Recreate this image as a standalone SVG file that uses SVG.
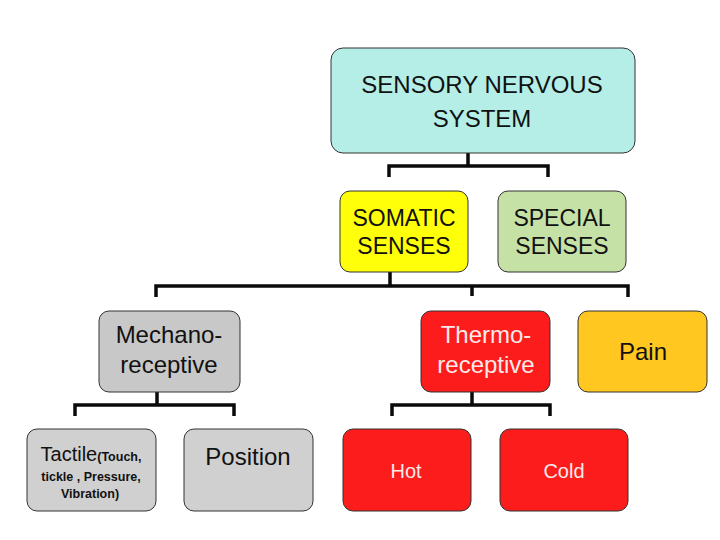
<svg xmlns="http://www.w3.org/2000/svg" width="720" height="540" viewBox="0 0 720 540">
<style>
text{font-family:"Liberation Sans",Arial,sans-serif;text-anchor:middle;fill:#111}
.box{stroke:#333;stroke-width:1}
.w{fill:#fbeaea}
.ln{stroke:#0a0a0a;stroke-width:3.5;fill:none;stroke-linecap:butt}
</style>
<rect width="720" height="540" fill="#fff"/>
<g id="connectors">
  <line x1="468" y1="140" x2="468" y2="153" stroke="#9ab8b6" stroke-width="3"/>
  <path class="ln" d="M468 153V166M389 177V166H548V177"/>
  <line x1="390" y1="260" x2="390" y2="272" stroke="#d6d66a" stroke-width="3"/>
  <path class="ln" d="M390 272V286M156 297V286H628V297M472 286V296"/>
  <line x1="157" y1="380" x2="157" y2="392" stroke="#a0a0a0" stroke-width="3"/>
  <path class="ln" d="M157 392V405M75 416V405H234V416"/>
  <line x1="472" y1="380" x2="472" y2="392" stroke="#b01010" stroke-width="3"/>
  <path class="ln" d="M472 392V405M392 416V405H550V416"/>
</g>
<g id="sensory">
  <rect class="box" x="331" y="48" width="304" height="105" rx="12" fill="#b4eee7"/>
  <text x="482" y="93" font-size="24">SENSORY NERVOUS</text>
  <text x="482" y="127" font-size="24">SYSTEM</text>
</g>
<g id="somatic">
  <rect class="box" x="340" y="191" width="128" height="81" rx="10" fill="#ffff0a"/>
  <text x="404" y="226" font-size="23">SOMATIC</text>
  <text x="404" y="254" font-size="23">SENSES</text>
</g>
<g id="special">
  <rect class="box" x="498" y="191" width="128" height="81" rx="10" fill="#c6e1a6"/>
  <text x="562" y="226" font-size="23">SPECIAL</text>
  <text x="562" y="254" font-size="23">SENSES</text>
</g>
<g id="mechano">
  <rect class="box" x="99" y="311" width="141" height="81" rx="10" fill="#c8c8c8"/>
  <text x="169" y="343" font-size="24">Mechano-</text>
  <text x="169" y="373" font-size="24">receptive</text>
</g>
<g id="thermo">
  <rect class="box" x="421" y="311" width="129" height="81" rx="10" fill="#fc1c1c"/>
  <text class="w" x="486" y="343" font-size="24">Thermo-</text>
  <text class="w" x="486" y="373" font-size="24">receptive</text>
</g>
<g id="pain">
  <rect class="box" x="578" y="311" width="129" height="81" rx="10" fill="#ffc71f"/>
  <text x="643" y="360" font-size="24">Pain</text>
</g>
<g id="tactile">
  <rect class="box" x="27" y="429" width="129" height="82" rx="10" fill="#d0d0d0"/>
  <text x="91" y="461"><tspan font-size="20">Tactile</tspan><tspan font-size="12.5" font-weight="bold">(Touch,</tspan></text>
  <text x="91" y="481" font-size="12.5" font-weight="bold">tickle , Pressure,</text>
  <text x="90" y="498" font-size="12.5" font-weight="bold">Vibration)</text>
</g>
<g id="position">
  <rect class="box" x="184" y="429" width="129" height="82" rx="10" fill="#d0d0d0"/>
  <text x="248" y="465" font-size="24">Position</text>
</g>
<g id="hot">
  <rect class="box" x="343" y="429" width="128" height="82" rx="10" fill="#fc1c1c"/>
  <text class="w" x="406" y="478" font-size="20">Hot</text>
</g>
<g id="cold">
  <rect class="box" x="500" y="429" width="128" height="82" rx="10" fill="#fc1c1c"/>
  <text class="w" x="564" y="478" font-size="20">Cold</text>
</g>
</svg>
